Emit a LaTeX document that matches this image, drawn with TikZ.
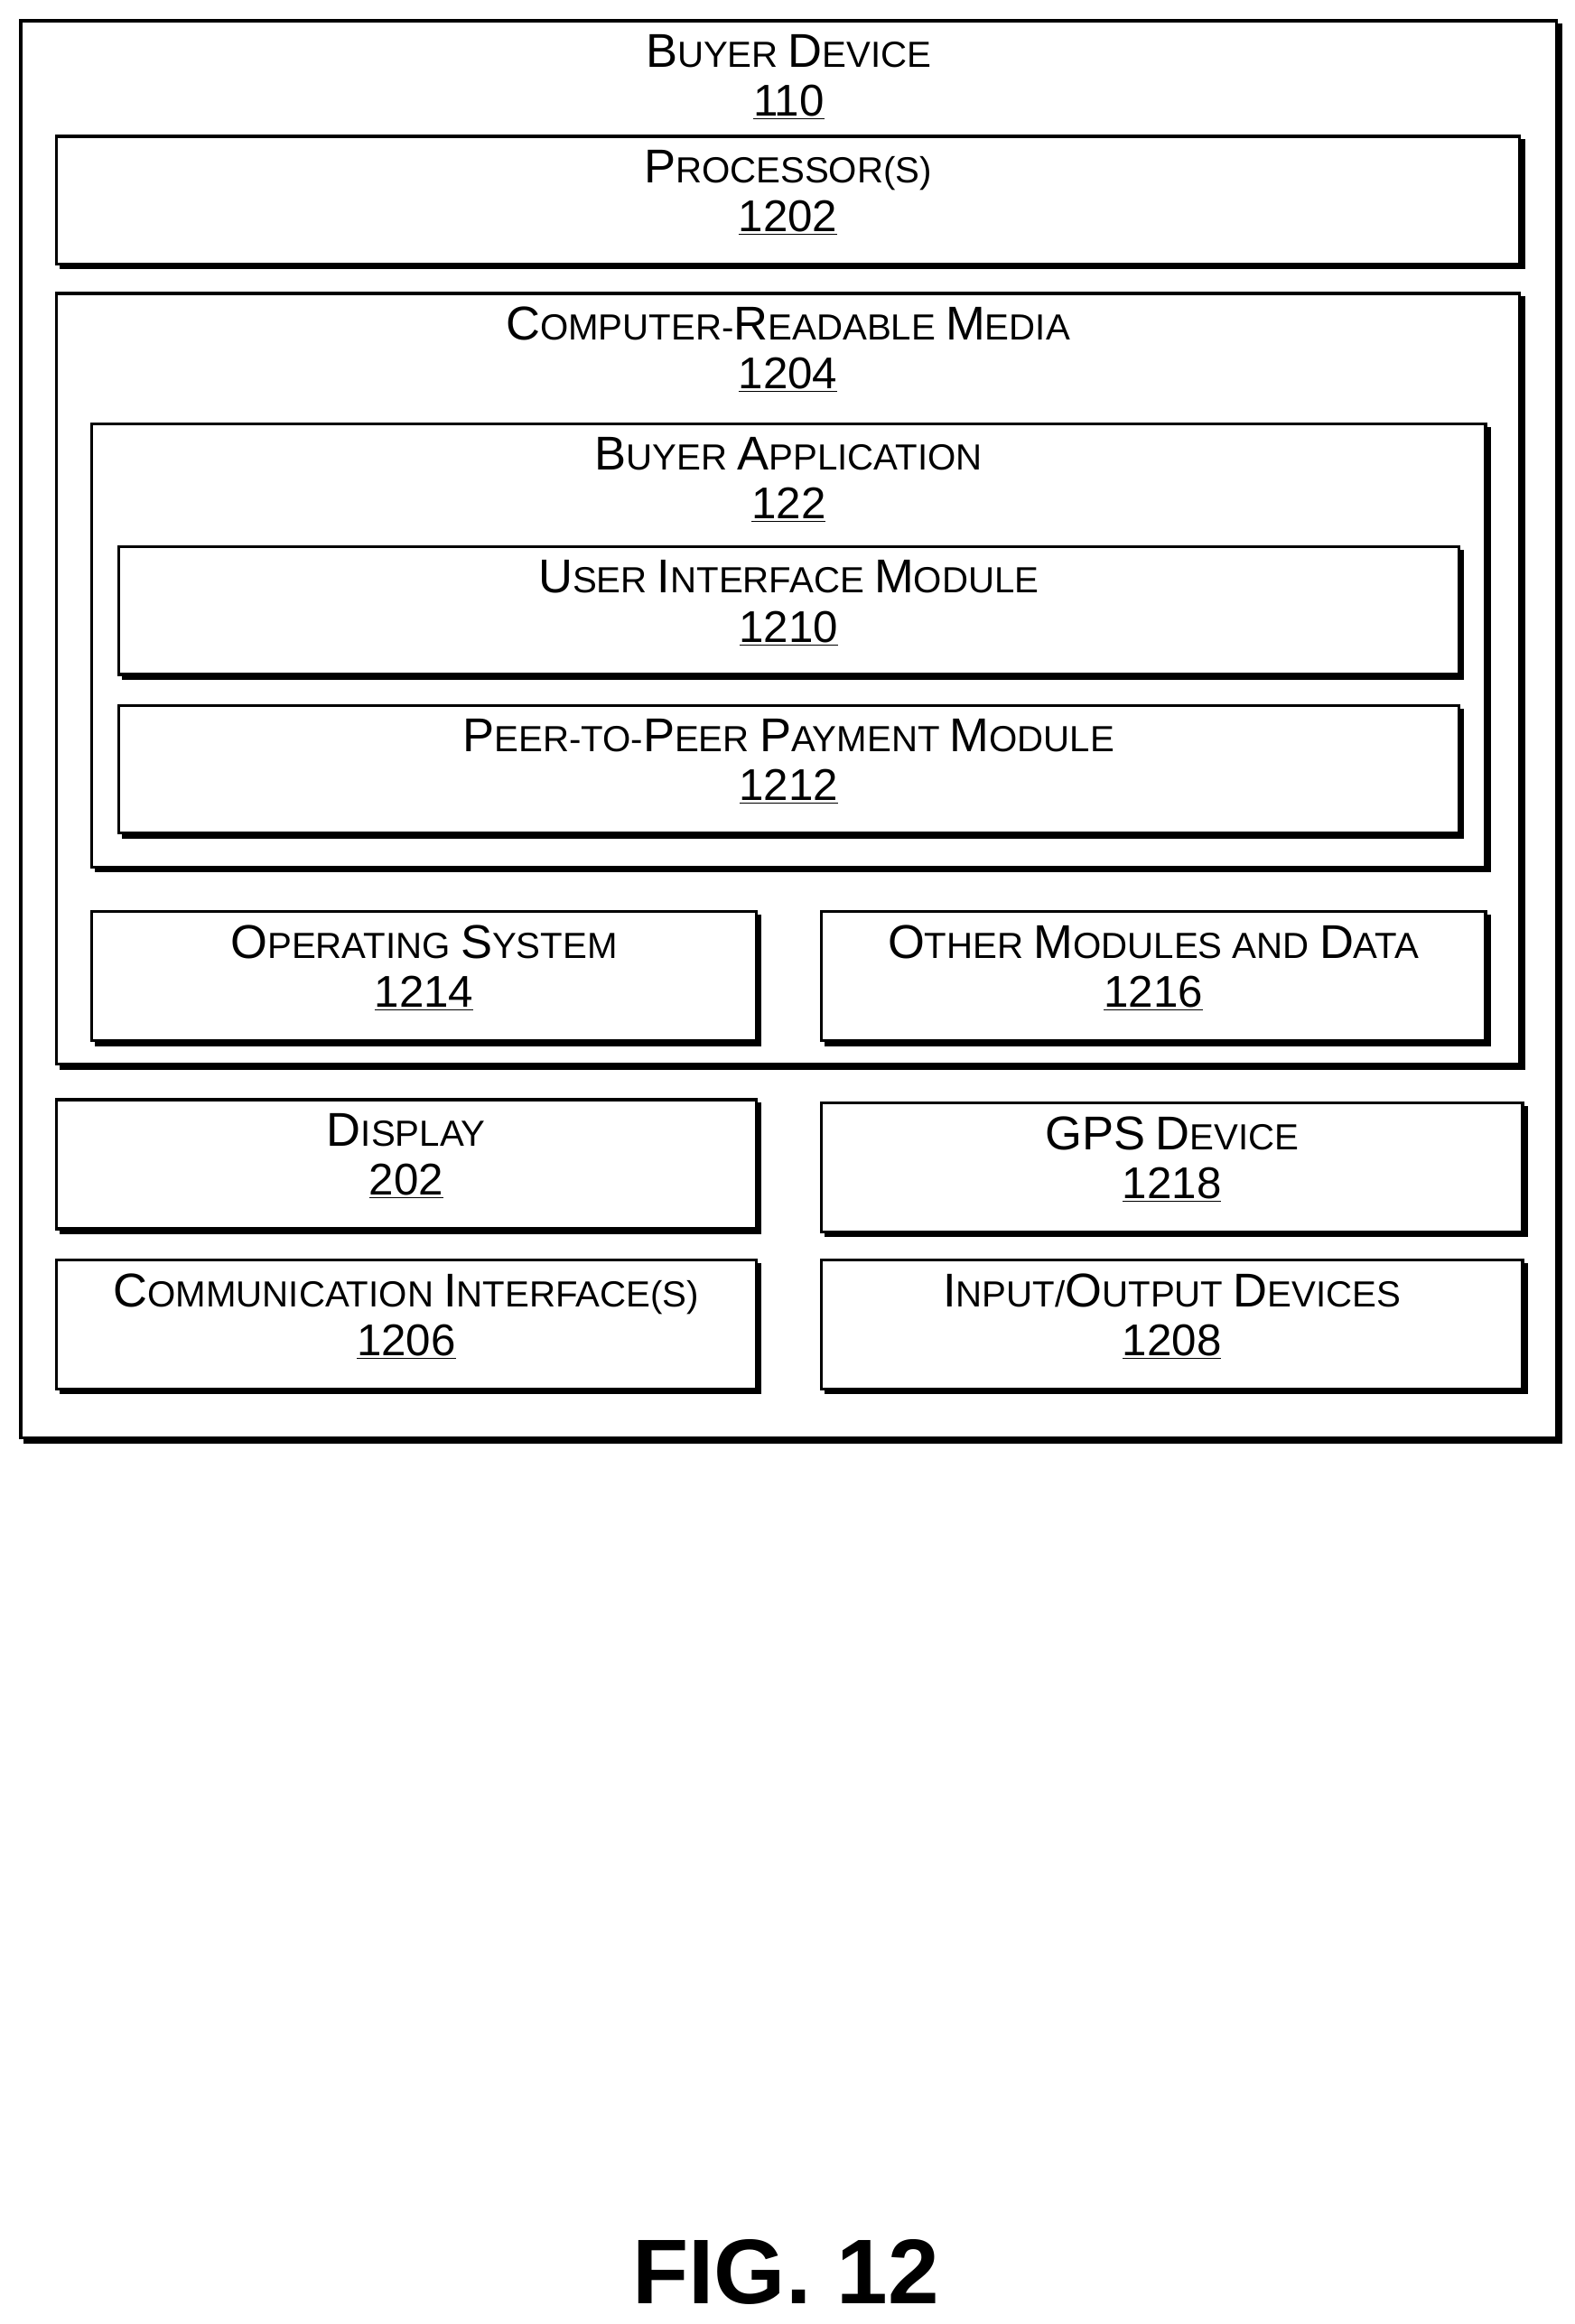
\documentclass[tikz,border=0pt]{standalone}
\usepackage{fontspec}
\setmainfont{Liberation Sans}
\newcommand{\B}[1]{{\fontsize{32}{32}\selectfont #1}}
\newcommand{\numb}[1]{\underline{#1}}
\tikzset{bx/.style={draw,line width=2pt}, sh/.style={line width=3.5pt}, lbl/.style={align=center,font=\fontsize{24.5}{29}\selectfont, inner sep=0pt}}
\newcommand{\bx}[7]{%
 \draw[sh] (#2+2,#5+2)--(#4+2,#5+2)--(#4+2,#3+2);
 \draw[bx] (#2,#3) rectangle (#4,#5);
 \node[lbl,anchor=north] (#1) at ({(#2+#4)/2},#3+9) {#6\\[4pt]{\fontsize{30}{30}\selectfont\numb{#7}}};}
\begin{document}
\begin{tikzpicture}[x=1pt,y=-1pt]
\useasboundingbox (0,0) rectangle (1062,1568);
\bx{outer}{14}{14}{1050}{970}{\B{B}UYER \B{D}EVICE}{110}
\bx{proc}{38}{92}{1025}{178}{\B{P}ROCESSOR(S)}{1202}
\bx{crm}{38}{198}{1025}{718}{\B{C}OMPUTER-\B{R}EADABLE \B{M}EDIA}{1204}
\bx{app}{62}{286}{1002}{585}{\B{B}UYER \B{A}PPLICATION}{122}
\bx{ui}{80}{369}{984}{455}{\B{U}SER \B{I}NTERFACE \B{M}ODULE}{1210}
\bx{p2p}{80}{476}{984}{562}{\B{P}EER-TO-\B{P}EER \B{P}AYMENT \B{M}ODULE}{1212}
\bx{os}{62}{615}{510}{702}{\B{O}PERATING \B{S}YSTEM}{1214}
\bx{other}{554}{615}{1002}{702}{\B{O}THER \B{M}ODULES AND \B{D}ATA}{1216}
\bx{disp}{38}{742}{510}{829}{\B{D}ISPLAY}{202}
\bx{gps}{554}{744}{1027}{831}{\B{GPS} \B{D}EVICE}{1218}
\bx{comm}{38}{850}{510}{937}{\B{C}OMMUNICATION \B{I}NTERFACE(S)}{1206}
\bx{io}{554}{850}{1027}{937}{\B{I}NPUT/\B{O}UTPUT \B{D}EVICES}{1208}
\node[font=\fontsize{62}{64}\selectfont\bfseries] (fig) at (530,1533) {FIG. 12};
\end{tikzpicture}
\end{document}
